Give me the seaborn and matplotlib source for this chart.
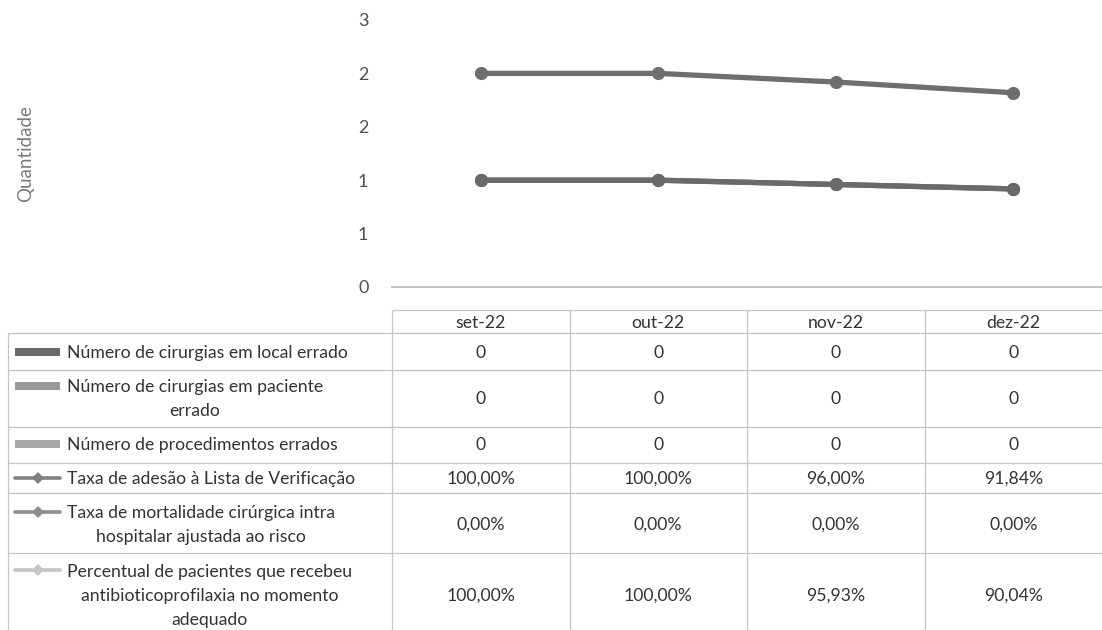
import numpy as np
import pandas as pd
import seaborn as sns
import matplotlib
matplotlib.use("Agg")
import matplotlib.pyplot as plt
from matplotlib.patches import Rectangle
from matplotlib.lines import Line2D

# ---------------- data ----------------
months = ["set-22", "out-22", "nov-22", "dez-22"]
local_errado = [0, 0, 0, 0]
paciente_errado = [0, 0, 0, 0]
proced_errados = [0, 0, 0, 0]
adesao_pct = [100.00, 100.00, 96.00, 91.84]
mortalidade_pct = [0.00, 0.00, 0.00, 0.00]
antibio_pct = [100.00, 100.00, 95.93, 90.04]

row_labels = [
    "Número de cirurgias em local errado",
    "Número de cirurgias em paciente\nerrado",
    "Número de procedimentos errados",
    "Taxa de adesão à Lista de Verificação",
    "Taxa de mortalidade cirúrgica intra\nhospitalar ajustada ao risco",
    "Percentual de pacientes que recebeu\nantibioticoprofilaxia no momento\nadequado",
]
y_label = "Quantidade"
y_ticks = [0, 0.5, 1.0, 1.5, 2.0, 2.5]

# ---------------- style ----------------
sns.set_theme(style="white")
plt.rcParams["font.family"] = ["Lato", "DejaVu Sans"]
TXT = "#333333"
GRID = "#c4c4c4"
FS = 12.7

W, H = 1102, 630
fig = plt.figure(figsize=(W / 100, H / 100), dpi=100)

# main plot area (pixel layout)
left, right, top, bottom = 392, 1102, 20, 287
ax = fig.add_axes([left / W, 1 - bottom / H, (right - left) / W, (bottom - top) / H])

x = np.arange(len(months))

# stacked bar series (all zero)
bar_bottom = np.zeros(len(months))
for vals, col in [(local_errado, "#6a6a6a"), (paciente_errado, "#9a9a9a"), (proced_errados, "#a8a8a8")]:
    ax.bar(x, vals, bottom=bar_bottom, width=0.5, color=col, linewidth=0)
    bar_bottom = bar_bottom + np.array(vals)

# stacked line series (fractions, cumulative)
line_series = [
    ("Taxa de adesão", adesao_pct, "#626262"),
    ("Taxa de mortalidade", mortalidade_pct, "#6a6a6a"),
    ("Percentual antibio", antibio_pct, "#6e6e6e"),
]
cum = np.zeros(len(months))
frames = []
for name, vals, col in line_series:
    cum = cum + np.array(vals) / 100.0
    frames.append(pd.DataFrame({"x": x, "y": cum.copy(), "serie": name}))
df = pd.concat(frames, ignore_index=True)
palette = {n: c for n, _, c in line_series}
sns.lineplot(data=df, x="x", y="y", hue="serie", palette=palette, ax=ax,
             marker="o", markersize=9.5, markeredgewidth=0, linewidth=3.8,
             legend=False, sort=False)

ax.set_xlim(-0.5, len(months) - 0.5)
ax.set_ylim(0, 2.5)
ax.set_yticks(y_ticks)
ax.set_yticklabels([str(int(np.floor(v + 0.5))) for v in y_ticks])
ax.tick_params(axis="y", length=0, pad=17, labelsize=13, labelcolor="#505050")
ax.set_xticks([])
ax.set_xlabel("")
ax.set_ylabel("")
for s in ["top", "right", "left"]:
    ax.spines[s].set_visible(False)
ax.spines["bottom"].set_color("#bdbdbd")
ax.spines["bottom"].set_linewidth(1.3)
ax.patch.set_alpha(0)

fig.text(26 / W, 1 - 154 / H, y_label, rotation=90, ha="center", va="center",
         fontsize=13.5, color="#7a7a7a")

# ---------------- data table ----------------
tax = fig.add_axes([0, 0, 1, 1])
tax.set_xlim(0, W)
tax.set_ylim(H, 0)
tax.axis("off")
tax.patch.set_alpha(0)

fig.canvas.draw()
def col_px(v):
    # data x position -> pixel x in figure
    return ax.transData.transform((v, 0))[0]

col_edges = [col_px(i - 0.5) for i in range(len(months) + 1)]
col_centers = [col_px(i) for i in range(len(months))]

row_edges = [310, 333, 370, 427, 463, 493, 553, 640]
lab_left = 8

lk = dict(color=GRID, linewidth=0.9, solid_capstyle="butt")
tax.plot([col_edges[0], col_edges[-1]], [row_edges[0]] * 2, **lk)
for ye in row_edges[1:-1]:
    tax.plot([lab_left, col_edges[-1]], [ye, ye], **lk)
for xe in col_edges[:-1]:
    tax.plot([xe, xe], [row_edges[0], H], **lk)
tax.plot([lab_left, lab_left], [row_edges[1], H], **lk)

for cx, m in zip(col_centers, months):
    tax.text(cx, (row_edges[0] + row_edges[1]) / 2 + 1, m, ha="center", va="center",
             fontsize=FS, color=TXT)

def fmt_int(v):
    return f"{v:.0f}"

def fmt_pct(v):
    return f"{v:.2f}%".replace(".", ",")

table_vals = [
    [fmt_int(v) for v in local_errado],
    [fmt_int(v) for v in paciente_errado],
    [fmt_int(v) for v in proced_errados],
    [fmt_pct(v) for v in adesao_pct],
    [fmt_pct(v) for v in mortalidade_pct],
    [fmt_pct(v) for v in antibio_pct],
]

row_centers = [352, 398, 444, 478, 524, 595]
first_line_y = [352, 386, 444, 478, 512, 570]
for r in range(6):
    for cx, s in zip(col_centers, table_vals[r]):
        tax.text(cx, row_centers[r] + 1, s, ha="center", va="center",
                 fontsize=FS, color=TXT)
    tax.text(67, row_centers[r] + 1, row_labels[r], ha="left", va="center",
             multialignment="center", fontsize=FS, color=TXT, linespacing=1.6)

bar_key_cols = ["#6a6a6a", "#9a9a9a", "#a8a8a8"]
for r in range(3):
    yk = first_line_y[r]
    tax.add_patch(Rectangle((15, yk - 4), 45, 8, color=bar_key_cols[r], linewidth=0))
line_key_cols = ["#808080", "#8c8c8c", "#c4c4c4"]
for i, r in enumerate(range(3, 6)):
    yk = first_line_y[r]
    tax.add_line(Line2D([15, 60], [yk, yk], color=line_key_cols[i], linewidth=2.6))
    tax.add_line(Line2D([38], [yk], marker="D", markersize=6, color=line_key_cols[i],
                        markeredgewidth=0))

fig.savefig("out.png", dpi=100)
